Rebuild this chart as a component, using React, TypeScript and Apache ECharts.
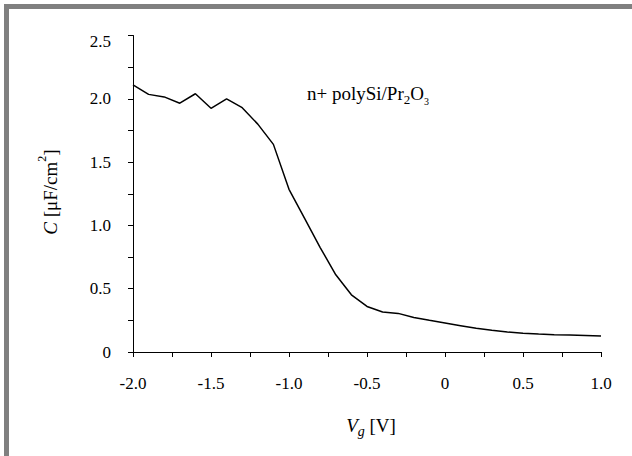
import React, { useEffect, useRef } from "react";
import * as echarts from "echarts";

const vg: number[] = [
  -2.0, -1.9, -1.8, -1.7, -1.6, -1.5, -1.4, -1.3, -1.2, -1.1, -1.0, -0.9, -0.8,
  -0.7, -0.6, -0.5, -0.4, -0.3, -0.2, -0.1, 0.0, 0.1, 0.2, 0.3, 0.4, 0.5, 0.6,
  0.7, 0.8, 0.9, 1.0,
];
const capacitance: number[] = [
  2.11, 2.035, 2.015, 1.965, 2.04, 1.925, 2.0, 1.93, 1.8, 1.64, 1.285, 1.055,
  0.825, 0.61, 0.452, 0.36, 0.316, 0.305, 0.272, 0.25, 0.229, 0.208, 0.187,
  0.171, 0.158, 0.148, 0.142, 0.137, 0.134, 0.13, 0.126,
];
const xTicks = { min: -2, max: 1, interval: 0.5 };
const yTicks = { min: 0, max: 2.5, interval: 0.5 };

const FONT = "'Liberation Serif', 'DejaVu Serif', serif";

export default function App() {
  const ref = useRef<HTMLDivElement>(null);
  useEffect(() => {
    if (!ref.current) return;
    const chart = echarts.init(ref.current, null, { renderer: "svg" });
    const fmt = (v: number) => (Math.abs(v) < 1e-9 ? "0" : v.toFixed(1));
    chart.setOption({
      animation: false,
      backgroundColor: "#ffffff",
      textStyle: { fontFamily: FONT, color: "#000" },
      grid: { left: 133, right: 31, top: 35.5, bottom: 104, containLabel: false },
      xAxis: {
        type: "value",
        min: xTicks.min,
        max: xTicks.max,
        interval: xTicks.interval,
        axisLine: { show: true, onZero: false, lineStyle: { color: "#000", width: 1 } },
        axisTick: { show: true, inside: false, length: 5, lineStyle: { color: "#000" } },
        minorTick: { show: true, splitNumber: 2, length: 5, lineStyle: { color: "#000" } },
        splitLine: { show: false },
        axisLabel: {
          formatter: fmt,
          margin: 23,
          fontFamily: FONT,
          fontSize: 17,
          color: "#000",
        },
      },
      yAxis: {
        type: "value",
        min: yTicks.min,
        max: yTicks.max,
        interval: yTicks.interval,
        axisLine: { show: true, onZero: false, lineStyle: { color: "#000", width: 1 } },
        axisTick: { show: true, inside: false, length: 5, lineStyle: { color: "#000" } },
        minorTick: { show: true, splitNumber: 2, length: 5, lineStyle: { color: "#000" } },
        splitLine: { show: false },
        axisLabel: {
          formatter: (v: number) => (Math.abs(v - 2.5) < 1e-9 ? "{t|" + fmt(v) + "}" : "{n|" + fmt(v) + "}"),
          margin: 22,
          fontFamily: FONT,
          fontSize: 17,
          color: "#000",
          rich: {
            t: { fontFamily: FONT, fontSize: 17, color: "#000", padding: [12, 0, 0, 0] },
            n: { fontFamily: FONT, fontSize: 17, color: "#000" },
          },
        },
      },
      series: [
        {
          type: "line",
          data: vg.map((v, i) => [v, capacitance[i]]),
          showSymbol: false,
          symbol: "none",
          lineStyle: { color: "#000", width: 1.5 },
          z: 3,
        },
      ],
      graphic: [
        { type: "rect", shape: { x: 4, y: 4, width: 628, height: 5 }, style: { fill: "#808080" } },
        { type: "rect", shape: { x: 4, y: 4, width: 5, height: 452 }, style: { fill: "#808080" } },
        {
          type: "text",
          x: 50,
          y: 192,
          rotation: Math.PI / 2,
          style: {
            text: "{i|C} [μF/cm{s|2}]",
            align: "center",
            verticalAlign: "middle",
            fontFamily: FONT,
            fontSize: 19,
            fill: "#000",
            rich: {
              i: { fontFamily: FONT, fontSize: 19, fontStyle: "italic", fill: "#000", lineHeight: 28 },
              s: { fontFamily: FONT, fontSize: 12, fill: "#000", verticalAlign: "top", lineHeight: 28 },
            },
          },
        },
        {
          type: "text",
          x: 371,
          y: 425,
          style: {
            text: "{i|V}{sb|g} [V]",
            align: "center",
            verticalAlign: "middle",
            fontFamily: FONT,
            fontSize: 19,
            fill: "#000",
            rich: {
              i: { fontFamily: FONT, fontSize: 19, fontStyle: "italic", fill: "#000", lineHeight: 26 },
              sb: { fontFamily: FONT, fontSize: 14, fontStyle: "italic", fill: "#000", verticalAlign: "bottom", lineHeight: 26 },
            },
          },
        },
        {
          type: "text",
          x: 307,
          y: 93,
          style: {
            text: "n+ polySi/Pr{sb|2}O{sb3|3}",
            align: "left",
            verticalAlign: "middle",
            fontFamily: FONT,
            fontSize: 19,
            fill: "#000",
            rich: {
              sb: { fontFamily: FONT, fontSize: 13, fill: "#000", verticalAlign: "bottom", lineHeight: 26 },
              sb3: { fontFamily: FONT, fontSize: 10, fill: "#000", verticalAlign: "bottom", lineHeight: 25 },
            },
          },
        },
      ],
    });
    return () => chart.dispose();
  }, []);
  return (
    <div
      ref={ref}
      style={{ position: "fixed", left: 0, top: 0, width: 632, height: 456 }}
    />
  );
}
